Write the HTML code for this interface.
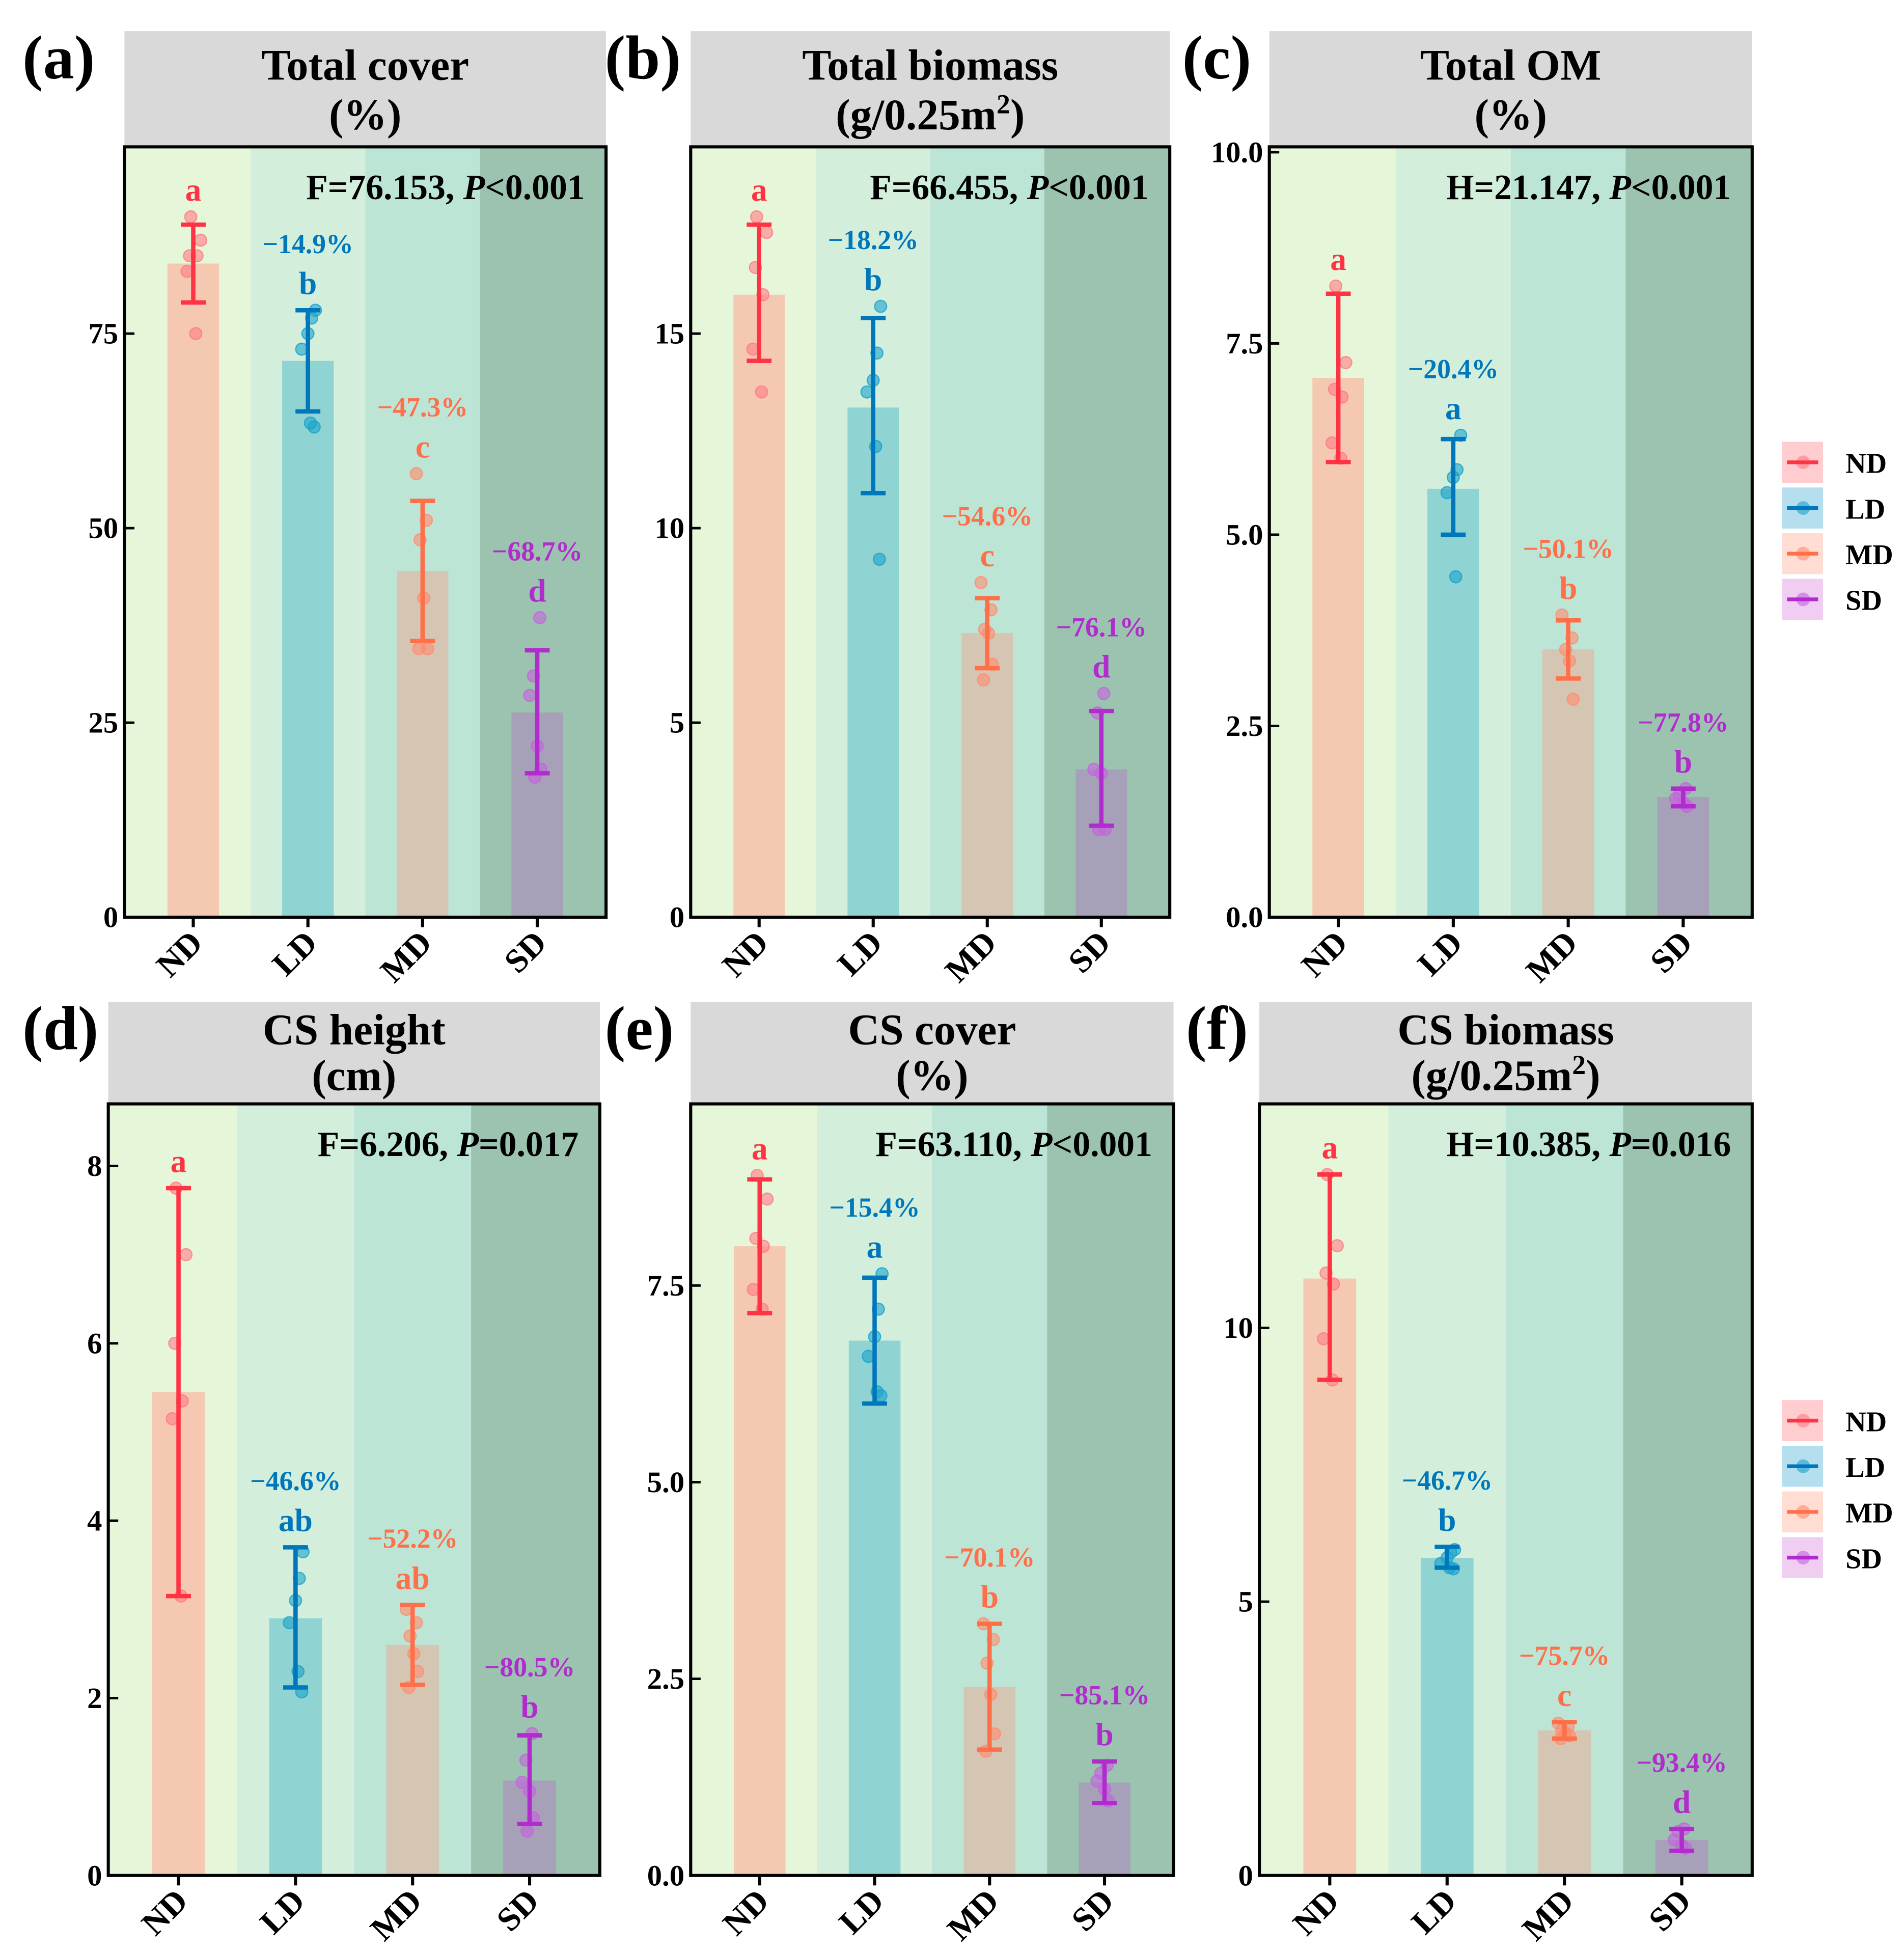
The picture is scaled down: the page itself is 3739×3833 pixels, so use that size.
<!DOCTYPE html>
<html><head><meta charset="utf-8"><style>
html,body{margin:0;padding:0;background:#fff}
svg{display:block}
text{font-family:"Liberation Serif",serif;font-weight:bold}
</style></head><body>
<svg id="fig" xmlns="http://www.w3.org/2000/svg" width="3739" height="3833" viewBox="0 0 1530 1568.5"></svg>
<script>
const groups = ["ND","LD","MD","SD"];
// panel a
const aMeans=[84,71.5,44.5,26.3], aLo=[79,65,35.5,18.5], aHi=[89,78,53.5,34.3];
const aPts=[[90,87,85,85,83,75],[78,77,75,73,63.5,63],[57,51,48.5,41,34.5,34.5],[38.5,31,28.5,22,19,18]];
const aLetters=["a","b","c","d"], aPct=["","−14.9%","−47.3%","−68.7%"], aTicks=[0,25,50,75];
// panel b
const bMeans=[16,13.1,7.3,3.8], bLo=[14.3,10.9,6.4,2.35], bHi=[17.8,15.4,8.2,5.3];
const bPts=[[18,17.6,16.7,16,14.6,13.5],[15.7,14.5,13.8,13.5,12.1,9.2],[8.6,7.9,7.4,7.3,6.5,6.1],[5.75,5.25,3.8,3.7,2.25,2.25]];
const bLetters=["a","b","c","d"], bPct=["","−18.2%","−54.6%","−76.1%"], bTicks=[0,5,10,15];
// panel c
const cMeans=[7.05,5.6,3.5,1.57], cLo=[5.95,5.0,3.12,1.45], cHi=[8.15,6.25,3.88,1.68];
const cPts=[[8.25,7.25,6.9,6.8,6.2,6.0],[6.3,5.85,5.75,5.55,4.45],[3.95,3.65,3.5,3.35,2.85],[1.68,1.6,1.55,1.5,1.45]];
const cLetters=["a","a","b","b"], cPct=["","−20.4%","−50.1%","−77.8%"], cTicks=["0.0","2.5","5.0","7.5","10.0"];
// panel d
const dMeans=[5.45,2.9,2.6,1.07], dLo=[3.15,2.12,2.15,0.58], dHi=[7.75,3.7,3.05,1.58];
const dPts=[[7.75,7.0,6.0,5.35,5.15,3.15],[3.65,3.35,3.1,2.85,2.3,2.07],[3.0,2.85,2.7,2.5,2.3,2.12],[1.6,1.3,1.05,0.95,0.65,0.5]];
const dLetters=["a","ab","ab","b"], dPct=["","−46.6%","−52.2%","−80.5%"], dTicks=[0,2,4,6,8];
// panel e
const eMeans=[8.0,6.8,2.4,1.18], eLo=[7.15,6.0,1.6,0.92], eHi=[8.85,7.6,3.2,1.45];
const ePts=[[8.9,8.6,8.1,8.0,7.45,7.2],[7.65,7.2,6.85,6.6,6.15,6.1],[3.2,3.0,2.7,2.3,1.8,1.58],[1.4,1.3,1.2,1.1,0.95]];
const eLetters=["a","a","b","b"], ePct=["","−15.4%","−70.1%","−85.1%"], eTicks=["0.0","2.5","5.0","7.5"];
// panel f
const fMeans=[10.9,5.8,2.65,0.65], fLo=[9.05,5.62,2.5,0.45], fHi=[12.8,6.0,2.8,0.85];
const fPts=[[12.8,11.5,11.0,10.8,9.8,9.05],[5.95,5.9,5.8,5.7,5.62,5.6],[2.78,2.72,2.65,2.6,2.55,2.5],[0.85,0.8,0.65,0.55,0.5]];
const fLetters=["a","b","c","d"], fPct=["","−46.7%","−75.7%","−93.4%"], fTicks=[0,5,10];

const NS="http://www.w3.org/2000/svg";
const svg=document.getElementById('fig');
function mk(tag,attrs,parent,txt){const e=document.createElementNS(NS,tag);for(const k in attrs)e.setAttribute(k,attrs[k]);if(txt!==undefined)e.textContent=txt;(parent||svg).appendChild(e);return e;}
const bandCol=["#e5f7d8","#d3efdc","#bde5d6","#9bc3b0"];
const barCol=["#f5c8b2","#8fd3d2","#d5c6b3","#a6a0b8"];
const errCol=["#ff3344","#0077bb","#ff6f4a","#b02ccc"];
const ptCol=["#ff7b86","#1aa3cc","#ff8c6e","#c464dd"];
const jit=[[ -2,6,-3,3,-5,2],[6,3,0,-5,2,5],[-5,3,-2,1,4,-3],[2,-3,-6,0,3,-2]];

function panel(o){
  const g=mk('g',{});
  
  
  const L=o.x0,R=o.x1,T=o.y0,B=o.y1;
  const xs=i=>L+(i+0.6)*(R-L)/4.2;
  const ys=v=>B-(v/o.max)*(B-T);
  const hd=mk('rect',{x:L,y:o.hy,width:R-L,height:T-o.hy,fill:"#d9d9d9"},g);
  
  
  const t1=mk('text',{x:(L+R)/2,y:o.hy+o.l1,'font-size':35,'text-anchor':'middle'},g,o.t1);
  
  
  const t2=mk('text',{x:(L+R)/2,y:o.hy+o.l2,'font-size':35,'text-anchor':'middle'},g);
  
  
  if(o.sup){mk('tspan',{},t2,o.t2);mk('tspan',{'font-size':22,dy:-13},t2,'2');mk('tspan',{dy:13},t2,')');}else t2.textContent=o.t2;
  const pl=mk('text',{x:o.lx,y:o.hy+38,'font-size':50},g,'('+o.id+')');
  
  
  const edges=[L,xs(0.5),xs(1.5),xs(2.5),R];
  for(let i=0;i<4;i++){const r=mk('rect',{x:edges[i],y:T,width:edges[i+1]-edges[i],height:B-T,fill:bandCol[i]},g);
    
    }
  for(let i=0;i<4;i++){
    const cx=xs(i),bw=0.45*(R-L)/4.2;
    const bar=mk('rect',{x:cx-bw/2,y:ys(o.m[i]),width:bw,height:B-ys(o.m[i]),fill:barCol[i]},g);
    
    
    o.p[i].forEach((v,k)=>{const c=mk('circle',{cx:cx+jit[i][k%6],cy:ys(v),r:4.8,fill:ptCol[i],'fill-opacity':0.6,stroke:ptCol[i],'stroke-opacity':0.8,'stroke-width':1},g);
      
      });
    const eb=mk('path',{d:`M${cx},${ys(o.lo[i])}V${ys(o.hi[i])}M${cx-10},${ys(o.lo[i])}H${cx+10}M${cx-10},${ys(o.hi[i])}H${cx+10}`,stroke:errCol[i],'stroke-width':3.5,fill:'none'},g);
    
    
    const top=Math.min(ys(o.hi[i]),...o.p[i].map(ys));
    const lt=mk('text',{x:cx,y:top-13,'font-size':26,'text-anchor':'middle',fill:errCol[i]},g,o.let[i]);
    
    
    if(o.pct[i]){const pt=mk('text',{x:cx,y:top-46,'font-size':22,'text-anchor':'middle',fill:errCol[i]},g,o.pct[i]);
      
      }
    const tk=mk('line',{x1:cx,x2:cx,y1:B,y2:B+8,stroke:'#000','stroke-width':2.5},g);
    
    
    const xl=mk('text',{x:cx+9,y:B+22,'font-size':27,'text-anchor':'end',transform:`rotate(-45 ${cx+9} ${B+22})`},g,groups[i]);
    
    
  }
  o.ticks.forEach(t=>{const y=ys(parseFloat(t));
    const tl=mk('line',{x1:L,x2:L+8,y1:y,y2:y,stroke:'#000','stroke-width':2},g);
    
    
    const tt=mk('text',{x:L-5,y:y+8,'font-size':24,'text-anchor':'end'},g,String(t));
    
    });
  const st=mk('text',{x:R-17,y:T+42,'font-size':28.5,'text-anchor':'end'},g);
  
  
  mk('tspan',{},st,o.stat+', ');mk('tspan',{'font-style':'italic'},st,'P');mk('tspan',{},st,o.pv);
  const fr=mk('rect',{x:L,y:T,width:R-L,height:B-T,fill:'none',stroke:'#000','stroke-width':2.5},g);
  
  
}
panel({id:'a',x0:100,x1:487,y0:118,y1:737,hy:25,l1:39,l2:79,lx:18,max:99,t1:'Total cover',t2:'(%)',m:aMeans,lo:aLo,hi:aHi,p:aPts,let:aLetters,pct:aPct,ticks:aTicks,stat:'F=76.153',pv:'<0.001'});
panel({id:'b',x0:555,x1:940,y0:118,y1:737,hy:25,l1:39,l2:79,lx:486,max:19.8,t1:'Total biomass',t2:'(g/0.25m',sup:true,m:bMeans,lo:bLo,hi:bHi,p:bPts,let:bLetters,pct:bPct,ticks:bTicks,stat:'F=66.455',pv:'<0.001'});
panel({id:'c',x0:1020,x1:1408,y0:118,y1:737,hy:25,l1:39,l2:79,lx:950,max:10.07,t1:'Total OM',t2:'(%)',m:cMeans,lo:cLo,hi:cHi,p:cPts,let:cLetters,pct:cPct,ticks:cTicks,stat:'H=21.147',pv:'<0.001'});
panel({id:'d',x0:87,x1:482,y0:887,y1:1507,hy:805,l1:34,l2:71,lx:18,max:8.7,t1:'CS height',t2:'(cm)',m:dMeans,lo:dLo,hi:dHi,p:dPts,let:dLetters,pct:dPct,ticks:dTicks,stat:'F=6.206',pv:'=0.017'});
panel({id:'e',x0:555,x1:943,y0:887,y1:1507,hy:805,l1:34,l2:71,lx:486,max:9.81,t1:'CS cover',t2:'(%)',m:eMeans,lo:eLo,hi:eHi,p:ePts,let:eLetters,pct:ePct,ticks:eTicks,stat:'F=63.110',pv:'<0.001'});
panel({id:'f',x0:1012,x1:1408,y0:887,y1:1507,hy:805,l1:34,l2:71,lx:953,max:14.09,t1:'CS biomass',t2:'(g/0.25m',sup:true,m:fMeans,lo:fLo,hi:fHi,p:fPts,let:fLetters,pct:fPct,ticks:fTicks,stat:'H=10.385',pv:'=0.016'});

const legBg=["#ffccd0","#b5dfee","#ffddd3","#efcef2"];
function legend(y0,name){
  const g=mk('g',{});
  
  
  groups.forEach((gr,i)=>{const y=y0+i*36.7;
    const e=mk('g',{},g);
    
    
    mk('rect',{x:1432,y:y,width:33,height:33,fill:legBg[i]},e);
    mk('circle',{cx:1449,cy:y+16.5,r:5.5,fill:ptCol[i],'fill-opacity':0.6},e);
    mk('line',{x1:1436,x2:1461,y1:y+16.5,y2:y+16.5,stroke:errCol[i],'stroke-width':3},e);
    mk('text',{x:1483,y:y+25,'font-size':23},e,gr);});
}
legend(355,'legend-top');
legend(1125,'legend-bottom');
</script>
</body></html>
